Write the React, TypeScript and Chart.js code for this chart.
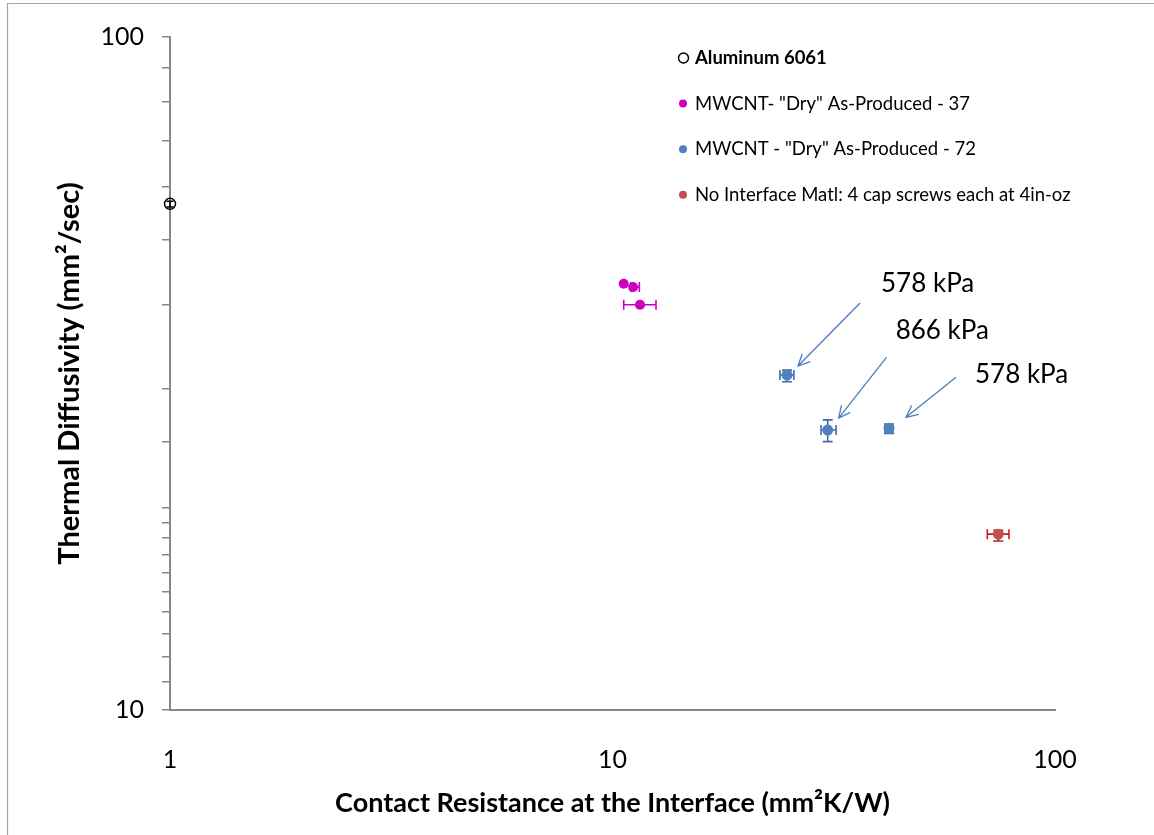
import { useEffect, useRef } from 'react';
import { Chart, registerables } from 'chart.js';

Chart.register(...registerables);

const FONT = 'Lato, "Open Sans", "DejaVu Sans", sans-serif';

// Series labels
const seriesLabels = [
  'Aluminum 6061',
  'MWCNT- "Dry" As-Produced - 37',
  'MWCNT - "Dry" As-Produced - 72',
  'No Interface Matl: 4 cap screws each at 4in-oz',
];

// Aluminum 6061
const aluminumX = [1.0];
const aluminumY = [56.5];
const aluminumXLow = [1.0];
const aluminumXHigh = [1.0];
const aluminumYLow = [55.9];
const aluminumYHigh = [57.0];

// MWCNT - 37
const cnt37X = [10.6, 11.13, 11.54];
const cnt37Y = [43.0, 42.5, 40.0];
const cnt37XLow = [10.6, 11.0, 10.6];
const cnt37XHigh = [10.6, 11.5, 12.54];
const cnt37YLow = [43.0, 42.5, 40.0];
const cnt37YHigh = [43.0, 42.5, 40.0];

// MWCNT - 72
const cnt72X = [24.8, 30.64, 42.16];
const cnt72Y = [31.46, 26.06, 26.22];
const cnt72XLow = [23.9, 29.6, 41.3];
const cnt72XHigh = [25.7, 32.0, 43.0];
const cnt72YLow = [30.74, 25.05, 25.75];
const cnt72YHigh = [31.99, 26.98, 26.6];

// No interface material
const bareX = [74.45];
const bareY = [18.25];
const bareXLow = [70.3];
const bareXHigh = [78.7];
const bareYLow = [17.83];
const bareYHigh = [18.5];

// Axis tick labels that are printed
const xTickLabels = [1, 10, 100];
const yTickLabels = [10, 100];

// Pressure callouts on the MWCNT - 72 points
const calloutLabels = ['578 kPa', '866 kPa', '578 kPa'];
const calloutPoints = [0, 1, 2];

// Callout geometry, in pixels relative to the point: arrow tip, arrow tail, text anchor
const calloutLayout = [
  { tip: [11, -9], tail: [73, -72], text: [94, -91] },
  { tip: [11, -12], tail: [59, -73], text: [68, -99] },
  { tip: [17, -11], tail: [67, -51], text: [86, -54] },
];

const toPoints = (xs: number[], ys: number[]) => xs.map((x, i) => ({ x, y: ys[i] }));

const errorBarPlugin = {
  id: 'errorBars',
  beforeDatasetsDraw(chart: any) {
    const { ctx, scales } = chart;
    const xs = scales.x;
    const ys = scales.y;
    chart.data.datasets.forEach((ds: any) => {
      const e = ds.errorBars;
      if (!e) return;
      ctx.save();
      ctx.strokeStyle = e.color;
      ctx.lineWidth = 1.6;
      ds.data.forEach((p: any, i: number) => {
        const px = xs.getPixelForValue(p.x);
        const py = ys.getPixelForValue(p.y);
        const x0 = xs.getPixelForValue(e.xLow[i]);
        const x1 = xs.getPixelForValue(e.xHigh[i]);
        const y0 = ys.getPixelForValue(e.yLow[i]);
        const y1 = ys.getPixelForValue(e.yHigh[i]);
        const c = e.cap;
        ctx.beginPath();
        if (Math.abs(x0 - px) > 0.5) {
          ctx.moveTo(x0, py); ctx.lineTo(px, py);
          ctx.moveTo(x0, py - c); ctx.lineTo(x0, py + c);
        }
        if (Math.abs(x1 - px) > 0.5) {
          ctx.moveTo(px, py); ctx.lineTo(x1, py);
          ctx.moveTo(x1, py - c); ctx.lineTo(x1, py + c);
        }
        if (Math.abs(y0 - py) > 0.5) {
          ctx.moveTo(px, py); ctx.lineTo(px, y0);
          ctx.moveTo(px - c, y0); ctx.lineTo(px + c, y0);
        }
        if (Math.abs(y1 - py) > 0.5) {
          ctx.moveTo(px, py); ctx.lineTo(px, y1);
          ctx.moveTo(px - c, y1); ctx.lineTo(px + c, y1);
        }
        ctx.stroke();
      });
      ctx.restore();
    });
  },
};

const calloutPlugin = {
  id: 'callouts',
  afterDatasetsDraw(chart: any) {
    const { ctx, scales } = chart;
    const ds = chart.data.datasets[2];
    ctx.save();
    ctx.strokeStyle = '#4a7ebb';
    ctx.lineWidth = 1.3;
    ctx.fillStyle = '#000';
    ctx.font = `26px ${FONT}`;
    ctx.textAlign = 'left';
    ctx.textBaseline = 'middle';
    calloutLabels.forEach((label, k) => {
      const p = ds.data[calloutPoints[k]];
      const px = scales.x.getPixelForValue(p.x);
      const py = scales.y.getPixelForValue(p.y);
      const g = calloutLayout[k];
      const tx = px + g.tip[0], ty = py + g.tip[1];
      const sx = px + g.tail[0], sy = py + g.tail[1];
      const ang = Math.atan2(ty - sy, tx - sx);
      const head = 13;
      const spread = 0.45;
      ctx.beginPath();
      ctx.moveTo(sx, sy);
      ctx.lineTo(tx, ty);
      ctx.moveTo(tx - head * Math.cos(ang - spread), ty - head * Math.sin(ang - spread));
      ctx.lineTo(tx, ty);
      ctx.lineTo(tx - head * Math.cos(ang + spread), ty - head * Math.sin(ang + spread));
      ctx.stroke();
      ctx.fillText(label, px + g.text[0], py + g.text[1]);
    });
    ctx.restore();
  },
};

const legendPlugin = {
  id: 'insetLegend',
  afterDraw(chart: any) {
    const { ctx, chartArea } = chart;
    const mx = chartArea.left + 513;
    const top = chartArea.top + 21;
    const step = 45.6;
    ctx.save();
    ctx.textAlign = 'left';
    ctx.textBaseline = 'middle';
    chart.data.datasets.forEach((ds: any, i: number) => {
      const y = top + i * step;
      ctx.beginPath();
      if (ds.legendHollow) {
        ctx.arc(mx + 0.5, y, 5, 0, Math.PI * 2);
        ctx.strokeStyle = ds.pointBorderColor;
        ctx.lineWidth = 1.5;
        ctx.fillStyle = '#fff';
        ctx.fill();
        ctx.stroke();
      } else {
        ctx.arc(mx, y, 4, 0, Math.PI * 2);
        ctx.fillStyle = ds.pointBackgroundColor;
        ctx.fill();
      }
      ctx.fillStyle = '#000';
      ctx.font = `${i === 0 ? 'bold ' : ''}18.5px ${FONT}`;
      ctx.fillText(ds.label, mx + 12, y);
    });
    ctx.restore();
  },
};

const framePlugin = {
  id: 'frame',
  beforeDraw(chart: any) {
    const { ctx, width, height } = chart;
    ctx.save();
    ctx.fillStyle = '#fff';
    ctx.fillRect(0, 0, width, height);
    ctx.strokeStyle = '#a6a6a6';
    ctx.lineWidth = 1.2;
    ctx.beginPath();
    ctx.moveTo(7.5, height);
    ctx.lineTo(7.5, 3.5);
    ctx.lineTo(width, 3.5);
    ctx.stroke();
    ctx.restore();
  },
};

export default function App() {
  const canvasRef = useRef<HTMLCanvasElement | null>(null);

  useEffect(() => {
    if (!canvasRef.current) return;
    const axisGray = '#868686';
    const chart = new Chart(canvasRef.current, {
      type: 'scatter',
      data: {
        datasets: [
          {
            label: seriesLabels[0],
            data: toPoints(aluminumX, aluminumY),
            clip: false,
            pointRadius: 5.5,
            pointBackgroundColor: 'rgba(255,255,255,0)',
            pointBorderColor: '#000',
            pointBorderWidth: 1.5,
            legendHollow: true,
            errorBars: { xLow: aluminumXLow, xHigh: aluminumXHigh, yLow: aluminumYLow, yHigh: aluminumYHigh, color: '#000', cap: 3.5 },
          } as any,
          {
            label: seriesLabels[1],
            data: toPoints(cnt37X, cnt37Y),
            pointRadius: 5,
            pointBackgroundColor: '#cc00c0',
            pointBorderColor: '#cc00c0',
            pointBorderWidth: 0,
            errorBars: { xLow: cnt37XLow, xHigh: cnt37XHigh, yLow: cnt37YLow, yHigh: cnt37YHigh, color: '#cc00c0', cap: 5 },
          } as any,
          {
            label: seriesLabels[2],
            data: toPoints(cnt72X, cnt72Y),
            pointRadius: 5.5,
            pointBackgroundColor: '#4f81bd',
            pointBorderColor: '#4f81bd',
            pointBorderWidth: 0,
            errorBars: { xLow: cnt72XLow, xHigh: cnt72XHigh, yLow: cnt72YLow, yHigh: cnt72YHigh, color: '#3c6eab', cap: 5 },
          } as any,
          {
            label: seriesLabels[3],
            data: toPoints(bareX, bareY),
            pointRadius: 5.5,
            pointBackgroundColor: '#c0504d',
            pointBorderColor: '#c0504d',
            pointBorderWidth: 0,
            errorBars: { xLow: bareXLow, xHigh: bareXHigh, yLow: bareYLow, yHigh: bareYHigh, color: '#c81e1e', cap: 5 },
          } as any,
        ],
      },
      options: {
        responsive: false,
        animation: false,
        devicePixelRatio: 1,
        layout: { padding: { left: 0, top: 37, right: 99, bottom: 0 } },
        plugins: {
          legend: { display: false },
          tooltip: { enabled: false },
        },
        scales: {
          x: {
            type: 'logarithmic',
            position: 'bottom',
            min: 1,
            max: 100,
            border: { display: true, color: axisGray, width: 2 },
            grid: { display: true, drawOnChartArea: false, drawTicks: false },
            ticks: {
              autoSkip: false,
              maxRotation: 0,
              padding: 35,
              color: '#000',
              font: { family: FONT, size: 25 },
              callback: (v: any) => (xTickLabels.includes(Number(v)) ? String(v) : ''),
            },
            title: {
              display: true,
              text: 'Contact Resistance at the Interface (mm²K/W)',
              color: '#000',
              font: { family: FONT, size: 27, weight: 'bold' },
              padding: { top: 0, bottom: 16 },
            },
            afterFit: (s: any) => { s.height = 125; },
          },
          y: {
            type: 'logarithmic',
            position: 'left',
            min: 10,
            max: 100,
            border: { display: true, color: axisGray, width: 2 },
            grid: { display: true, drawOnChartArea: false, drawTicks: true, tickLength: 8, color: axisGray, lineWidth: 1.5 },
            ticks: {
              autoSkip: false,
              padding: 18,
              color: '#000',
              font: { family: FONT, size: 25 },
              callback: (v: any) => (yTickLabels.includes(Number(v)) ? String(v) : ''),
            },
            title: {
              display: true,
              text: 'Thermal Diffusivity (mm²/sec)',
              color: '#000',
              font: { family: FONT, size: 29, weight: 'bold' },
              padding: { top: 52, bottom: 0 },
            },
            afterFit: (s: any) => { s.width = 170; },
          },
        },
      } as any,
      plugins: [framePlugin, errorBarPlugin, calloutPlugin, legendPlugin],
    });
    return () => chart.destroy();
  }, []);

  return (
    <div style={{ position: 'absolute', left: 0, top: 0, width: 1154, height: 835 }}>
      <canvas ref={canvasRef} width={1154} height={835} style={{ display: 'block' }} />
    </div>
  );
}
